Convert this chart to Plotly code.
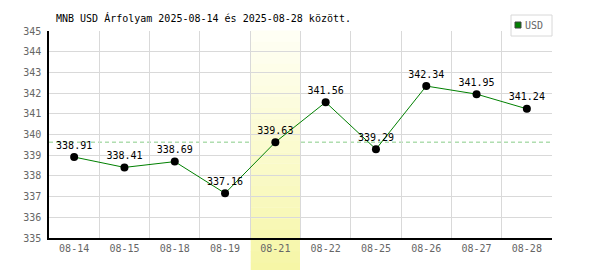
import plotly.graph_objects as go

dates = ["08-14", "08-15", "08-18", "08-19", "08-21", "08-22", "08-25", "08-26", "08-27", "08-28"]
usd = [338.91, 338.41, 338.69, 337.16, 339.63, 341.56, 339.29, 342.34, 341.95, 341.24]
highlight_date = "08-21"
y_min, y_max = 335, 345
title_text = "MNB USD Árfolyam 2025-08-14 és 2025-08-28 között."
series_name = "USD"

W, H = 600, 270
ML, MR, MT, MB = 49, 48, 31, 32
plot_h = H - MT - MB
FONT = "DejaVu Sans Mono"

hi = dates.index(highlight_date)
hl_value = usd[hi]

fig = go.Figure()

fig.add_trace(go.Scatter(
    x=dates, y=usd, mode="lines+markers+text",
    line=dict(color="#008000", width=1),
    marker=dict(color="#000000", size=8),
    text=[f"{v:.2f}" for v in usd], textposition="top center",
    textfont=dict(family=FONT, size=10, color="#000000"),
    showlegend=False, cliponaxis=False,
))

shapes = []
# dashed reference line at highlighted day's value (below the band)
shapes.append(dict(type="line", xref="paper", yref="y", x0=0, x1=1,
                   y0=hl_value, y1=hl_value, layer="below",
                   line=dict(color="#88cc88", width=1, dash="4px,3px")))

# gradient highlight band
bottom_paper = (MB - (H - 3)) / plot_h  # extends below axis to near the window bottom
top_paper = 1.0
N = 40
c_top = (255, 255, 246)
c_bot = (238, 238, 98)
for k in range(N):
    y0 = top_paper - (top_paper - bottom_paper) * k / N
    y1 = top_paper - (top_paper - bottom_paper) * (k + 1) / N
    t = (k + 0.5) / N
    col = tuple(round(a + (b - a) * t) for a, b in zip(c_top, c_bot))
    shapes.append(dict(type="rect", xref="x", yref="paper",
                       x0=hi - 0.49, x1=hi + 0.49, y0=y1, y1=y0 + 0.002,
                       fillcolor=f"rgb{col}", line=dict(width=0), layer="between"))

# legend box
lx0, lx1 = 511 / W, 552 / W
ly0, ly1 = 1 - 36 / H, 1 - 15 / H
fig_paper = lambda px_x, px_y: ((px_x - ML) / (W - ML - MR), (H - MB - px_y) / plot_h)
bx0, by0 = fig_paper(511, 36)
bx1, by1 = fig_paper(552, 15)
shapes.append(dict(type="rect", xref="paper", yref="paper", x0=bx0, x1=bx1, y0=by0, y1=by1,
                   fillcolor="#ffffff", line=dict(color="#d8d8d8", width=1), layer="above"))
sx0, sy0 = fig_paper(515, 28)
sx1, sy1 = fig_paper(521, 22)
shapes.append(dict(type="rect", xref="paper", yref="paper", x0=sx0, x1=sx1, y0=sy0, y1=sy1,
                   fillcolor="#008000", line=dict(color="#404040", width=1), layer="above"))
tx, ty = fig_paper(523, 25.5)

fig.update_layout(
    width=W, height=H,
    margin=dict(l=ML, r=MR, t=MT, b=MB, pad=0),
    paper_bgcolor="#ffffff", plot_bgcolor="#ffffff",
    shapes=shapes,
    font=dict(family=FONT, size=10, color="#666666"),
    annotations=[
        dict(text=title_text, xref="paper", yref="paper",
             x=(54 - ML) / (W - ML - MR), y=1 + (MT - 18.5) / plot_h,
             xanchor="left", yanchor="middle", showarrow=False,
             font=dict(family=FONT, size=10, color="#000000")),
        dict(text=series_name, xref="paper", yref="paper", x=tx, y=ty,
             xanchor="left", yanchor="middle", showarrow=False,
             font=dict(family=FONT, size=10, color="#666666")),
    ],
    xaxis=dict(
        type="category", categoryorder="array", categoryarray=dates,
        range=[-0.5, len(dates) - 0.5],
        tickson="boundaries", showgrid=True, gridcolor="#d9d9d9", gridwidth=1,
        showline=True, linecolor="#000000", linewidth=1.5,
        ticks="", tickfont=dict(family=FONT, size=10, color="#666666"),
        zeroline=False, fixedrange=True,
    ),
    yaxis=dict(
        range=[y_min, y_max], dtick=1, tick0=y_min,
        showgrid=True, gridcolor="#d9d9d9", gridwidth=1,
        showline=True, linecolor="#000000", linewidth=1.5,
        ticks="", ticklabelstandoff=4,
        tickfont=dict(family=FONT, size=10, color="#666666"),
        zeroline=False, fixedrange=True,
    ),
)

fig.write_html("out.html")
